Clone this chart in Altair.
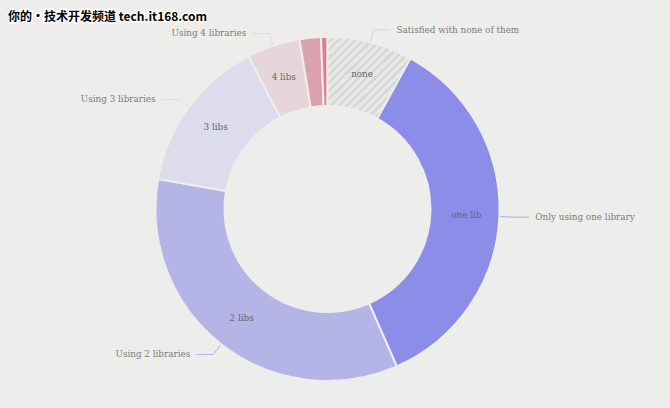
import altair as alt
import pandas as pd

# ---- data ----
categories = ["none", "one lib", "2 libs", "3 libs", "4 libs", "5 libs", "6+ libs"]
values = [8.0, 35.4, 34.4, 14.6, 5.0, 2.0, 0.6]
inner_labels = ["none", "one lib", "2 libs", "3 libs", "4 libs", "", ""]
outer_labels = ["Satisfied with none of them", "Only using one library", "Using 2 libraries",
                "Using 3 libraries", "Using 4 libraries", "", ""]
slice_colors = ["#dcdedb", "#8c8ce9", "#b4b4e7", "#dcdcec", "#e7d6d9", "#dca1ad", "#e27a91"]
line_colors = ["#d4d6d2", "#a9a9ee", "#b4b4e7", "#dcdcec", "#e7d6d9", "#dca1ad", "#e27a91"]

BG = "#edeeeb"
FONT = "DejaVu Serif"
FS = 8.8
CX, CY = 327.5, 209
R_OUT, R_IN = 172, 103

df = pd.DataFrame({
    "cat": categories,
    "value": values,
    "inner": inner_labels,
    "outer": outer_labels,
    "order": list(range(len(categories))),
})

color_scale = alt.Scale(domain=categories, range=slice_colors)
line_scale = alt.Scale(domain=categories, range=line_colors)

base = alt.Chart(df).encode(
    theta=alt.Theta("value:Q", stack=True),
    order=alt.Order("order:Q"),
    x=alt.value(CX),
    y=alt.value(CY),
)

donut = base.mark_arc(outerRadius=R_OUT, innerRadius=R_IN, stroke=BG, strokeWidth=2).encode(
    color=alt.Color("cat:N", scale=color_scale, legend=None)
)

# hatched fill for the "none" slice, as a striped linear gradient
n_per = 20
stops = []
for i in range(n_per):
    a = i / n_per
    m = (i + 0.5) / n_per
    b = (i + 1) / n_per
    stops += [
        alt.GradientStop(offset=a, color="#e8e9e6"),
        alt.GradientStop(offset=m, color="#e8e9e6"),
        alt.GradientStop(offset=m, color="#d7d9d5"),
        alt.GradientStop(offset=b, color="#d7d9d5"),
    ]
hatch = base.mark_arc(
    outerRadius=R_OUT, innerRadius=R_IN, stroke=BG, strokeWidth=2,
    color=alt.LinearGradient(gradient="linear", stops=stops, x1=0, y1=0, x2=1, y2=1),
).encode(
    opacity=alt.condition(alt.datum.cat == "none", alt.value(1), alt.value(0))
)

inner_text = base.mark_text(radius=139, font=FONT, fontSize=FS, color="#666666").encode(
    text="inner:N"
)

# leader lines and outside labels computed from the stacked values
lead = alt.Chart(df).transform_window(
    cum="sum(value)", sort=[alt.SortField("order")]
).transform_joinaggregate(
    total="sum(value)"
).transform_filter(
    alt.datum.outer != ""
).transform_calculate(
    mid="(datum.cum - datum.value/2) / datum.total * 2 * PI",
).transform_calculate(
    side="sin(datum.mid) >= 0 ? 1 : -1",
    x0=f"{CX} + {R_OUT + 1} * sin(datum.mid)",
    y0=f"{CY} - {R_OUT + 1} * cos(datum.mid)",
    x1=f"{CX} + {R_OUT + 13} * sin(datum.mid)",
    y1=f"{CY} - {R_OUT + 13} * cos(datum.mid)",
).transform_calculate(
    x2="datum.x1 + datum.side * 17",
).transform_calculate(
    tx="datum.x2 + datum.side * 6",
)

seg1 = lead.mark_rule(strokeWidth=1).encode(
    x=alt.X("x0:Q", scale=None), y=alt.Y("y0:Q", scale=None),
    x2="x1:Q", y2="y1:Q",
    color=alt.Color("cat:N", scale=line_scale, legend=None),
)
seg2 = lead.mark_rule(strokeWidth=1).encode(
    x=alt.X("x1:Q", scale=None), y=alt.Y("y1:Q", scale=None),
    x2="x2:Q", y2="y1:Q",
    color=alt.Color("cat:N", scale=line_scale, legend=None),
)
out_right = lead.transform_filter(alt.datum.side > 0).mark_text(
    align="left", baseline="middle", font=FONT, fontSize=FS, color="#7a7a7a"
).encode(x=alt.X("tx:Q", scale=None), y=alt.Y("y1:Q", scale=None), text="outer:N")
out_left = lead.transform_filter(alt.datum.side < 0).mark_text(
    align="right", baseline="middle", font=FONT, fontSize=FS, color="#7a7a7a"
).encode(x=alt.X("tx:Q", scale=None), y=alt.Y("y1:Q", scale=None), text="outer:N")

# watermark
wm_text = ["你的•技术开发频道 tech.it168.com"]
wm_df = pd.DataFrame({"t": wm_text})
wm_halo = alt.Chart(wm_df).mark_text(
    align="left", baseline="alphabetic", font="Noto Sans CJK SC", fontSize=12, fontWeight="bold",
    stroke="white", strokeWidth=3, color="white",
).encode(x=alt.value(8), y=alt.value(21), text="t:N")
wm = alt.Chart(wm_df).mark_text(
    align="left", baseline="alphabetic", font="Noto Sans CJK SC", fontSize=12, fontWeight="bold",
    color="black",
).encode(x=alt.value(8), y=alt.value(21), text="t:N")

chart = alt.layer(
    donut, hatch, inner_text, seg1, seg2, out_right, out_left, wm_halo, wm
).resolve_scale(color="independent").properties(
    width=670, height=408, background=BG, padding=0
).configure_view(stroke=None)

chart.save("out.html", embed_options={"renderer": "svg", "actions": False})
